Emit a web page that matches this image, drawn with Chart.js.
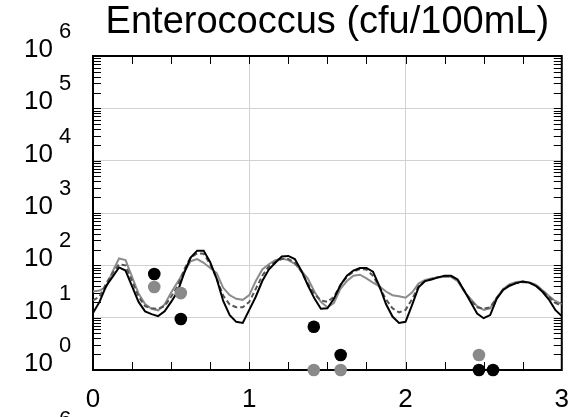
<!DOCTYPE html>
<html><head><meta charset="utf-8">
<script src="https://cdn.jsdelivr.net/npm/chart.js@4/dist/chart.umd.min.js"></script>
<style>html,body{margin:0;padding:0;background:#fff}#wrap{width:583px;height:417px;position:relative}</style>
</head><body><div id="wrap"><canvas id="c"></canvas></div>
<script>
const titleText = 'Enterococcus (cfu/100mL)';
const hours = [0,1,2,3,4,5,6,7,8,9,10,11,12,13,14,15,16,17,18,19,20,21,22,23,24,25,26,27,28,29,30,31,32,33,34,35,36,37,38,39,40,41,42,43,44,45,46,47,48,49,50,51,52,53,54,55,56,57,58,59,60,61,62,63,64,65,66,67,68,69,70,71,72];
const modelBlack = [12.3,20.0,39.8,60.3,91.2,79.4,39.8,20.0,13.2,11.7,10.7,13.2,20.0,31.6,70.8,141,191,191,115,55.0,20.9,11.2,8.32,7.94,14.1,25.1,50.1,83.2,112,148,151,132,79.4,41.7,23.4,14.8,15.1,22.9,41.7,63.1,79.4,89.1,89.1,75.9,39.8,18.2,10.5,7.94,8.32,17.4,38.0,50.1,53.7,58.9,63.1,63.1,53.7,33.1,20.0,12.0,9.77,11.2,22.9,33.9,40.7,45.7,49.0,46.8,40.7,31.6,22.4,14.1,10.7];
const modelDashed = [21.4,25.1,44.7,70.8,105,100,50.1,25.1,16.6,15.1,14.8,16.6,25.1,39.8,83.2,141,170,166,105,56.2,26.3,17.8,15.8,15.8,20.0,35.5,63.1,95.5,117,132,132,112,75.9,44.7,28.2,21.4,20.0,25.1,41.7,60.3,75.9,85.1,83.2,63.1,38.0,22.4,15.1,12.6,14.1,22.4,39.8,50.1,55.0,58.9,61.7,61.7,52.5,33.1,21.4,15.8,14.8,15.8,24.0,34.7,41.7,45.7,47.9,46.8,41.7,33.1,25.1,19.1,17.0];
const modelGrey = [31.6,33.1,38.0,75.9,135,126,60.3,28.8,18.2,14.8,13.8,17.8,30.2,47.9,75.9,120,132,112,89.1,70.8,37.2,26.9,22.9,21.9,26.9,50.1,83.2,105,126,135,126,107,79.4,56.2,31.6,20.0,15.8,19.1,35.5,50.1,63.1,66.1,56.2,46.8,39.8,31.6,26.9,25.7,24.0,30.2,44.7,52.5,56.2,58.9,60.3,60.3,50.1,31.6,22.9,16.6,14.1,15.1,24.0,35.5,43.7,47.9,49.0,46.8,42.7,33.9,26.3,20.9,18.2];
const obsBlackX = [0.392, 0.562, 1.413, 1.585, 2.47, 2.56];
const obsBlackY = [68.2, 9.4, 6.7, 1.94, 1, 1];
const obsGreyX = [0.392, 0.562, 1.413, 1.585, 2.47];
const obsGreyY = [38.5, 29.5, 1, 1, 1.94];
const xTickValues = [0, 1, 2, 3];
const xTickLabels = ['0', '1', '2', '3'];
const xMinorTicks = [0.25,0.5,0.75,1,1.25,1.5,1.75,2,2.25,2.5,2.75];
const yDecades = [1, 10, 100, 1000, 10000, 100000, 1000000];
const yTickBase = '10';
const yTickExponents = ['0', '1', '2', '3', '4', '5', '6'];

const FONT = '"Liberation Sans", Arial, Helvetica, sans-serif';
const toXY = (xs, ys) => xs.map((v, i) => ({x: v, y: ys[i]}));
const days = hours.map(h => h / 24);

const decoPlugin = {
  id: 'deco',
  beforeDatasetsDraw(chart) {
    const {ctx, chartArea: a, scales: {x, y}} = chart;
    ctx.save();
    ctx.strokeStyle = '#000';
    ctx.lineWidth = 1;
    ctx.beginPath();
    xMinorTicks.forEach(v => {
      const px = Math.round(x.getPixelForValue(v)) + 0.5;
      ctx.moveTo(px, a.bottom); ctx.lineTo(px, a.bottom - 8);
      ctx.moveTo(px, a.top); ctx.lineTo(px, a.top + 8);
    });
    for (let i = 0; i < yDecades.length - 1; i++) {
      for (let m = 1; m <= 9; m++) {
        const py = Math.round(y.getPixelForValue(yDecades[i] * m)) + 0.5;
        ctx.moveTo(a.left, py); ctx.lineTo(a.left + 8, py);
        ctx.moveTo(a.right, py); ctx.lineTo(a.right - 8, py);
      }
    }
    ctx.stroke();
    ctx.lineWidth = 2;
    ctx.strokeRect(a.left, a.top, a.right - a.left, a.bottom - a.top);
    ctx.restore();
  },
  afterDraw(chart) {
    const {ctx, scales: {y}} = chart;
    ctx.save();
    ctx.fillStyle = '#000';
    ctx.textBaseline = 'alphabetic';
    yDecades.forEach((v, i) => {
      const py = y.getPixelForValue(v);
      ctx.font = '26px ' + FONT;
      ctx.textAlign = 'right';
      ctx.fillText(yTickBase, 53, py + 1);
      ctx.font = '22px ' + FONT;
      ctx.textAlign = 'left';
      ctx.fillText(yTickExponents[i], 59, py - 18);
    });
    ctx.font = '22px ' + FONT;
    ctx.textAlign = 'left';
    ctx.fillText(yTickExponents[6], 59, 426);
    ctx.restore();
  }
};

new Chart(document.getElementById('c'), {
  type: 'scatter',
  data: {
    datasets: [
      {label: 'obs black', data: toXY(obsBlackX, obsBlackY), showLine: false, pointRadius: 6.3, pointHoverRadius: 6.3, pointBorderWidth: 0, backgroundColor: '#000', borderColor: '#000', clip: false, order: 0},
      {label: 'obs grey', data: toXY(obsGreyX, obsGreyY), showLine: false, pointRadius: 6.3, pointHoverRadius: 6.3, pointBorderWidth: 0, backgroundColor: '#8a8a8a', borderColor: '#8a8a8a', clip: false, order: 1},
      {label: 'model black', data: toXY(days, modelBlack), showLine: true, pointRadius: 0, borderColor: '#000', borderWidth: 2, tension: 0, order: 2},
      {label: 'model dashed', data: toXY(days, modelDashed), showLine: true, pointRadius: 0, borderColor: '#555', borderWidth: 2, borderDash: [5, 3], tension: 0, order: 3},
      {label: 'model grey', data: toXY(days, modelGrey), showLine: true, pointRadius: 0, borderColor: '#8c8c8c', borderWidth: 2, tension: 0, order: 4}
    ]
  },
  options: {
    responsive: true,
    maintainAspectRatio: false,
    animation: false,
    devicePixelRatio: 1,
    layout: {padding: {left: 0, right: 15, top: 0, bottom: 0}},
    plugins: {
      legend: {display: false},
      tooltip: {enabled: false},
      title: {
        display: true, text: titleText, fullSize: false, color: '#000',
        font: {family: FONT, size: 38, weight: 'normal', lineHeight: 1.2},
        padding: {top: 0, bottom: 10.4}
      }
    },
    scales: {
      x: {
        type: 'linear', min: 0, max: 3,
        afterBuildTicks: s => { s.ticks = xTickValues.map(v => ({value: v})); },
        afterFit: s => { s.height = 47; },
        ticks: {
          color: '#000', padding: 14, maxRotation: 0,
          font: {family: FONT, size: 26},
          callback: v => xTickLabels[xTickValues.indexOf(v)]
        },
        grid: {
          drawTicks: false,
          color: c => (c.tick && (c.tick.value === 0 || c.tick.value === 3)) ? 'rgba(0,0,0,0)' : '#d2d2d2',
          lineWidth: 1
        },
        border: {display: false}
      },
      y: {
        type: 'logarithmic', min: 1, max: 1000000,
        afterBuildTicks: s => { s.ticks = yDecades.map(v => ({value: v})); },
        afterFit: s => { s.width = 93; },
        ticks: {display: false},
        grid: {drawTicks: false, color: '#d2d2d2', lineWidth: 1},
        border: {display: false}
      }
    }
  },
  plugins: [decoPlugin]
});
</script>
</body></html>
